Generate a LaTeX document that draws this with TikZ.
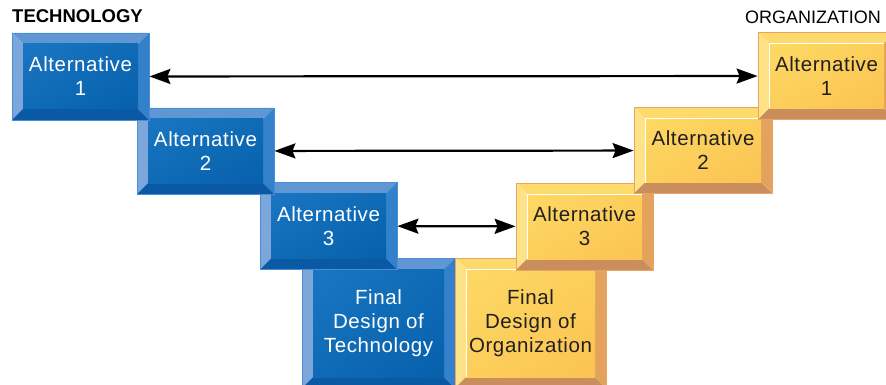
\documentclass[tikz,border=0pt]{standalone}
\usepackage{fontspec}
\setmainfont{Liberation Sans}
\usepackage{tikz}
\usetikzlibrary{positioning,arrows.meta,calc,shadings}

\definecolor{techface}{HTML}{1A76C2}
\definecolor{techfacedark}{HTML}{0660AC}
\definecolor{techtop}{HTML}{5F96D3}
\definecolor{techleft}{HTML}{7DA6DA}
\definecolor{techbottom}{HTML}{0A59A4}
\definecolor{techright}{HTML}{3381CB}
\definecolor{techedge}{HTML}{4A8ED6}
\definecolor{orgface}{HTML}{FDD963}
\definecolor{orgfacedark}{HTML}{FBC352}
\definecolor{orgtop}{HTML}{FDDA6C}
\definecolor{orgleft}{HTML}{FEE287}
\definecolor{orgbottom}{HTML}{C98E5C}
\definecolor{orgright}{HTML}{E4A35C}
\definecolor{orgedge}{HTML}{E9A461}
\definecolor{orgtext}{HTML}{231F20}

% bevelled face: face, face dark, top, left, bottom, right
\newcommand{\bevelface}[6]{%
    \path (path picture bounding box.north west) coordinate (pnw)
          (path picture bounding box.north east) coordinate (pne)
          (path picture bounding box.south west) coordinate (psw)
          (path picture bounding box.south east) coordinate (pse);
    \coordinate (inw) at ([shift={(11pt,-11pt)}]pnw);
    \coordinate (ine) at ([shift={(-11pt,-11pt)}]pne);
    \coordinate (isw) at ([shift={(11pt,11pt)}]psw);
    \coordinate (ise) at ([shift={(-11pt,11pt)}]pse);
    \fill[#3] (pnw) -- (pne) -- (ine) -- (inw) -- cycle;
    \fill[#4] (pnw) -- (inw) -- (isw) -- (psw) -- cycle;
    \fill[#5] (psw) -- (isw) -- (ise) -- (pse) -- cycle;
    \fill[#6] (pne) -- (pse) -- (ise) -- (ine) -- cycle;
    \shade[upper left=#1, lower right=#2, upper right=#1!50!#2,
           lower left=#1!50!#2] (inw) rectangle (ise);
}

\tikzset{
    boxfont/.style = {
        font=\fontsize{20.5}{24}\selectfont\addfontfeatures{LetterSpace=3}
    },
    techblock/.style = {
        boxfont,
        shape=rectangle,
        draw=techedge,
        line width=0.8pt,
        inner sep=0pt,
        align=center,
        text=white,
        minimum width=137pt,
        minimum height=87pt,
        path picture={\bevelface{techface}{techfacedark}{techtop}{techleft}{techbottom}{techright}}
    },
    orgblock/.style = {
        boxfont,
        shape=rectangle,
        draw=orgedge,
        line width=0.8pt,
        inner sep=0pt,
        align=center,
        text=orgtext,
        minimum width=137pt,
        minimum height=87pt,
        path picture={\bevelface{orgface}{orgfacedark}{orgtop}{orgleft}{orgbottom}{orgright}
            \draw[white, line width=1pt] (isw) -- (inw) -- (ine);}
    },
    title/.style = {
        inner sep=0pt,
        anchor=base west,
        font=\fontsize{18.5}{22}\selectfont
    },
    link/.style = {
        draw,
        <->,
        line width=2.2pt
    },
    >={Stealth[length=21pt,width=15pt,inset=3pt]},
}

\begin{document}
\begin{tikzpicture}[x=1pt, y=-1pt]
            \path[use as bounding box, clip] (0,0) rectangle (886,385);

            \node[title, font=\fontsize{18.5}{22}\selectfont\bfseries] (techtitle) at (12,23) {TECHNOLOGY};
            \node[title, font=\fontsize{18}{22}\selectfont] (orgtitle) at (745,24) {ORGANIZATION};

            % technology side, lowest first
            \node[techblock, minimum width=153pt, minimum height=130pt] (techfinal) at (378.5,323) {Final\\Design of\\Technology};
            \node[techblock] (techalt3) at (328.5,226) {Alternative\\3};
            \node[techblock, minimum height=86pt] (techalt2) at (205.5,151) {Alternative\\2};
            \node[techblock] (techalt1) at (80.5,76.5) {Alternative\\1};

            % organization side
            \node[orgblock, minimum width=151pt, minimum height=130pt] (orgfinal) at (530.5,323) {Final\\Design of\\Organization};
            \node[orgblock] (orgalt3) at (584.5,226.5) {Alternative\\3};
            \node[orgblock, minimum width=138pt, minimum height=86pt] (orgalt2) at (703,150.5) {Alternative\\2};
            \node[orgblock] (orgalt1) at (826.5,76) {Alternative\\1};

            \path[link] (techalt1) -- (orgalt1);
            \path[link] (techalt2) -- (orgalt2);
            \path[link] (techalt3) -- (orgalt3);
        \end{tikzpicture}
\end{document}
